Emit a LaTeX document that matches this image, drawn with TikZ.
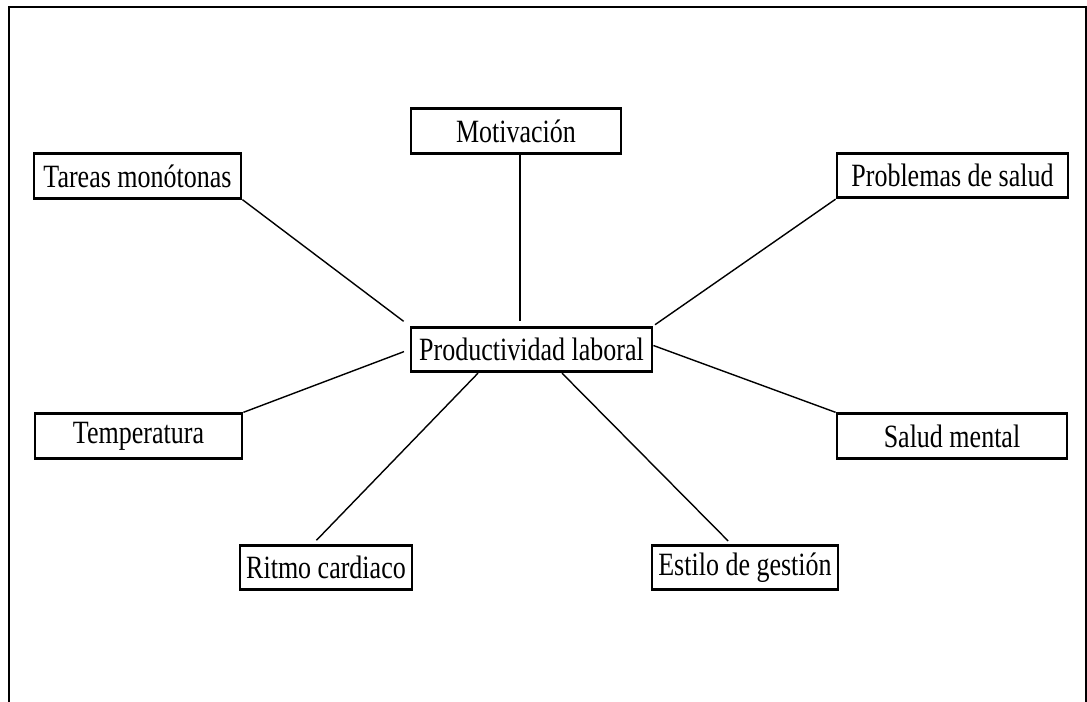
\documentclass[tikz,border=0pt]{standalone}
\usepackage{fontspec}
\setmainfont{Liberation Serif}[FakeStretch=0.8]
\usetikzlibrary{calc}

\begin{document}
\begin{tikzpicture}[
  factor/.style={draw,line width=1.6pt,inner sep=0pt,minimum height=0.89cm,
    font=\fontsize{18.5pt}{20pt}\selectfont},
  link/.style={line width=0.8pt}]
\useasboundingbox (0,0) rectangle (21.74,-14.04);
\draw[line width=1.4pt] (0.18,-14.04) -- (0.18,-0.14) -- (21.72,-0.14) -- (21.72,-14.04);
% nodes
\node[factor,minimum width=4.2cm] (mot) at (10.32,-2.62) {Motivación};
\node[factor,minimum width=4.14cm] (tareas) at (2.75,-3.52) {Tareas monótonas};
\node[factor,minimum width=4.62cm] (salud) at (19.05,-3.51) {Problemas de salud};
\node[factor,minimum width=4.82cm] (prod) at (10.63,-6.99) {Productividad laboral};
\node[factor,minimum width=4.14cm] (temp) at (2.77,-8.72) {Temperatura};
\node[factor,minimum width=4.6cm] (mental) at (19.04,-8.72) {Salud mental};
\node[factor,minimum width=3.44cm] (ritmo) at (6.52,-11.35) {Ritmo cardiaco};
\node[factor,minimum width=3.72cm] (estilo) at (14.9,-11.35) {Estilo de gestión};
% connectors
\draw[link,shorten >=0.1cm] ([xshift=0.08cm]mot.south) -- ([xshift=0.08cm]mot.south |- prod.north);
\draw[link,shorten >=0.15cm] (tareas.south east) -- (prod.north west);
\draw[link,shorten >=0.04cm] (salud.south west) -- (prod.north east);
\draw[link,shorten >=0.12cm] (temp.north east) -- (prod.west);
\draw[link] ([yshift=0.08cm]prod.east) -- (mental.north west);
\draw[link,shorten >=0.1cm] ([xshift=-1.07cm]prod.south) -- ([xshift=-0.26cm]ritmo.north);
\draw[link,shorten >=0.08cm] ([xshift=0.61cm]prod.south) -- ([xshift=-0.28cm]estilo.north);
\end{tikzpicture}
\end{document}
